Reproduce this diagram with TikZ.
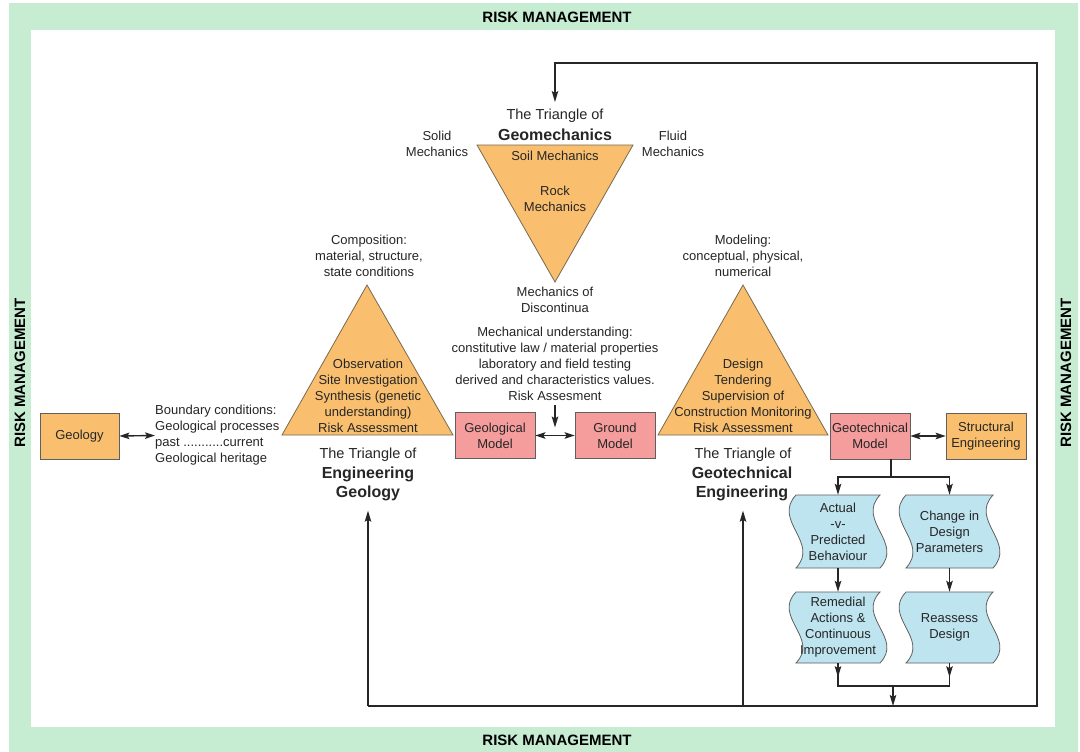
\documentclass[tikz,border=0pt]{standalone}
\usepackage{fontspec}
\setmainfont{Liberation Sans}
\usetikzlibrary{arrows.meta}

\definecolor{riskgreen}{RGB}{198,236,210}
\definecolor{triorange}{RGB}{249,191,110}
\definecolor{modelpink}{RGB}{245,156,156}
\definecolor{flowblue}{RGB}{190,228,240}
\definecolor{inkgray}{RGB}{38,38,38}
\definecolor{edgegray}{RGB}{95,95,95}
\definecolor{triedge}{RGB}{120,105,80}

% wavy-sided process box: name, left, top, right, bottom, text
\newcommand\flowtape[6]{%
  \filldraw[tape] (#2,#3) -- (#4,#3)
    .. controls ({#4-24},{#3+(#5-#3)*0.35}) and ({#4+24},{#3+(#5-#3)*0.65}) .. (#4,#5)
    -- (#2,#5)
    .. controls ({#2+24},{#3+(#5-#3)*0.65}) and ({#2-24},{#3+(#5-#3)*0.35}) .. (#2,#3) -- cycle;
  \node[txt, minimum width={(#4-#2)*1pt}, minimum height={(#5-#3)*1pt}] (#1)
    at ({(#2+#4)/2},{(#3+#5)/2}) {#6};
}

\begin{document}
\begin{tikzpicture}[x=1pt,y=-1pt,
  txt/.style={font=\fontsize{13}{16}\selectfont, align=center, inner sep=0pt, text=inkgray},
  ttlA/.style={font=\fontsize{14.5}{19}\selectfont, align=center, inner sep=0pt, text=inkgray},
  ttlB/.style={font=\bfseries\fontsize{16}{19}\selectfont, align=center, inner sep=0pt, text=inkgray},
  risk/.style={font=\bfseries\fontsize{15}{18}\selectfont, inner sep=0pt, text=black},
  box/.style={txt, draw=edgegray, line width=0.8pt, minimum width=80pt, minimum height=46pt},
  tri/.style={fill=triorange, draw=triedge, line width=0.8pt},
  tape/.style={fill=flowblue, draw=edgegray, line width=0.8pt},
  line/.style={draw=inkgray, line width=1.4pt},
  arr/.style={line, -{Stealth[length=11pt,width=6.5pt,inset=2pt]}},
  dbl/.style={line, {Stealth[length=10pt,width=6.5pt,inset=2pt]}-{Stealth[length=10pt,width=6.5pt,inset=2pt]}}
]
\useasboundingbox (0,0) rectangle (1080,752);
\fill[white] (0,0) rectangle (1080,752);

% risk management frame
\fill[riskgreen] (9,3) rectangle (1078,752);
\fill[white] (31,30) rectangle (1055,727);
\node[risk] (riskN) at (557,17) {RISK MANAGEMENT};
\node[risk] (riskS) at (557,740) {RISK MANAGEMENT};
\node[risk, rotate=90] (riskW) at (20,373) {RISK MANAGEMENT};
\node[risk, rotate=90] (riskE) at (1066,373) {RISK MANAGEMENT};

% triangle of geomechanics
\filldraw[tri] (477,145) -- (633,145) -- (555,282) -- cycle;
\node[ttlA] (gmTitleA) at (555,116) {The Triangle of};
\node[ttlB] (gmTitle) at (555,135) {Geomechanics};
\node[txt] (solid) at (437,143.5) {Solid\\Mechanics};
\node[txt] (fluid) at (673,143.5) {Fluid\\Mechanics};
\node[txt] (soil) at (555,156) {Soil Mechanics};
\node[txt] (rock) at (555,199) {Rock\\Mechanics};
\node[txt] (discont) at (555,299.5) {Mechanics of\\Discontinua};
\node[txt] (mech) at (555,363.5) {Mechanical understanding:\\constitutive law / material properties\\laboratory and field testing\\derived and characteristics values.\\Risk Assesment};

% triangle of engineering geology
\filldraw[tri] (282,435) -- (367,285) -- (453,435) -- cycle;
\node[txt] (compo) at (369,256) {Composition:\\material, structure,\\state conditions};
\node[txt] (egInner) at (368,395.5) {Observation\\Site Investigation\\Synthesis (genetic\\understanding)\\Risk Assessment};
\node[ttlA] (egTitleA) at (368,455) {The Triangle of};
\node[ttlB] (egTitle) at (368,483.5) {Engineering\\Geology};

% triangle of geotechnical engineering
\filldraw[tri] (658,435) -- (743,285) -- (828,435) -- cycle;
\node[txt] (modeling) at (743,256) {Modeling:\\conceptual, physical,\\numerical};
\node[txt] (gteInner) at (743,395.5) {Design\\Tendering\\Supervision of\\Construction Monitoring\\Risk Assessment};
\node[ttlA] (gteTitleA) at (743,455) {The Triangle of};
\node[ttlB] (gteTitle) at (742,483.5) {Geotechnical\\Engineering};

% boxes along the main row
\node[box, fill=triorange, minimum width=79pt] (geology) at (79.5,436) {Geology};
\node[txt, align=left, anchor=west] (boundary) at (155,435.5) {Boundary conditions:\\Geological processes\\past ...........current\\Geological heritage};
\node[box, fill=modelpink] (geomodel) at (495,435.5) {Geological\\Model};
\node[box, fill=modelpink] (groundmodel) at (615,435.5) {Ground\\Model};
\node[box, fill=modelpink] (gtmodel) at (870,436) {Geotechnical\\Model};
\node[box, fill=triorange] (structural) at (986,436) {Structural\\Engineering};

% monitoring and design review loop
\flowtape{actual}{796}{495}{880}{568}{Actual\\-v-\\Predicted\\Behaviour}
\flowtape{change}{906}{495}{993}{568}{Change in\\Design\\Parameters}
\flowtape{remedial}{796}{592}{880}{663}{Remedial\\Actions \&\\Continuous\\Improvement}
\flowtape{reassess}{906}{592}{993}{663}{Reassess\\Design}

% connectors
\draw[dbl] (geology.east) -- (boundary.west);
\draw[dbl] (geomodel) -- (groundmodel);
\draw[arr, shorten <=5pt, shorten >=8pt] (mech.south) -- (mech.south |- geomodel.center);
\draw[dbl] (gtmodel) -- (structural);

\coordinate (split) at (891,477);
\draw[line] (split |- gtmodel.south) -- (split);
\draw[arr] (split) -| (actual);
\draw[arr] (split) -| (change);
\draw[arr] (actual) -- (remedial);
\draw[arr] (change) -- (reassess);

\coordinate (join) at (893,686);
\draw[line] (remedial.south) |- (join) -| (reassess.south);
\draw[arr] (remedial.south) -- ++(0,14);
\draw[arr] (reassess.south) -- ++(0,14);

\coordinate (loopSW) at (368,706);
\coordinate (loopS2) at (743,706);
\coordinate (loopSE) at (1037,706);
\coordinate (loopNE) at (1037,63);
\draw[arr] (join) -- (join |- loopSE);
\draw[arr, shorten >=7pt] (loopSW) -- (loopSE) -- (loopNE) -| (gmTitleA.north);
\draw[arr, shorten >=10pt] (loopSW) -- (loopSW |- egTitle.south);
\draw[arr, shorten >=10pt] (loopS2) -- (loopS2 |- gteTitle.south);
\end{tikzpicture}
\end{document}
